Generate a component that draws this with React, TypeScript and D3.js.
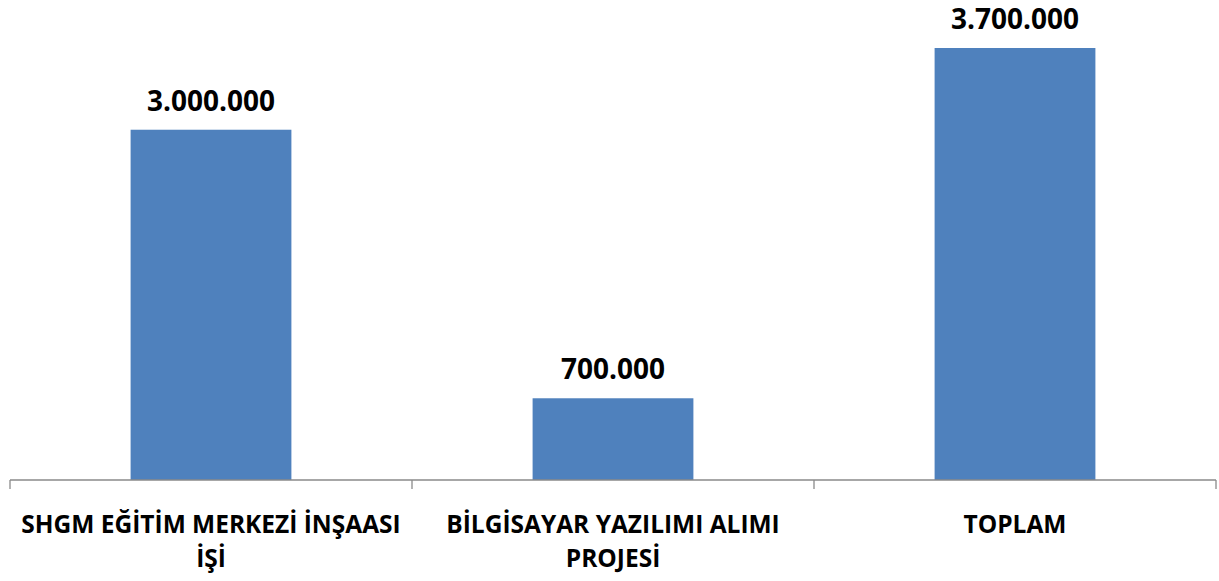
import React, { useEffect, useRef } from "react";
import * as d3 from "d3";

const categories: string[][] = [
    ["SHGM EĞİTİM MERKEZİ İNŞAASI", "İŞİ"],
    ["BİLGİSAYAR YAZILIMI ALIMI", "PROJESİ"],
    ["TOPLAM"],
];
const values: number[] = [3000000, 700000, 3700000];

const fmt = (v: number) => d3.format(",")(v).replace(/,/g, ".");

export default function App() {
    const svgRef = useRef<SVGSVGElement>(null);

    useEffect(() => {
        if (!svgRef.current) return;
        d3.select(svgRef.current).selectAll("*").remove();

        const width = 1219;
        const margin = { left: 10, right: 3, top: 48, base: 480 };
        const font = "'Open Sans', Lato, sans-serif";

        const svg = d3.select(svgRef.current);

        const x = d3.scaleBand<number>()
            .domain(values.map((_, i) => i))
            .range([margin.left, width - margin.right])
            .paddingInner(0)
            .paddingOuter(0);

        const y = d3.scaleLinear()
            .domain([0, 3700000])
            .range([margin.base, margin.top]);

        const barW = x.bandwidth() * 0.4;

        // bars
        svg.selectAll(".bar")
            .data(values)
            .enter()
            .append("rect")
            .attr("x", (_, i) => (x(i) || 0) + (x.bandwidth() - barW) / 2)
            .attr("width", barW)
            .attr("y", d => y(d))
            .attr("height", d => margin.base - y(d))
            .attr("fill", "#4F81BD");

        // value labels
        svg.selectAll(".val")
            .data(values)
            .enter()
            .append("text")
            .attr("x", (_, i) => (x(i) || 0) + x.bandwidth() / 2)
            .attr("y", d => y(d) - 19)
            .attr("text-anchor", "middle")
            .style("font-family", font)
            .style("font-weight", "bold")
            .style("font-size", "28px")
            .style("fill", "#000")
            .text(d => fmt(d));

        // axis line and ticks
        const axis = svg.append("g").attr("stroke", "#8a8a8a").attr("stroke-width", 1.3);
        axis.append("line")
            .attr("x1", margin.left).attr("x2", width - margin.right)
            .attr("y1", margin.base).attr("y2", margin.base);
        const ticks = [...values.map((_, i) => x(i) || 0), width - margin.right];
        axis.selectAll(".tick")
            .data(ticks)
            .enter()
            .append("line")
            .attr("x1", d => d).attr("x2", d => d)
            .attr("y1", margin.base).attr("y2", margin.base + 9);

        // category labels
        categories.forEach((lines, i) => {
            const t = svg.append("text")
                .attr("text-anchor", "middle")
                .style("font-family", font)
                .style("font-weight", "bold")
                .style("font-size", "24.5px")
                .style("fill", "#000");
            lines.forEach((line, j) => {
                t.append("tspan")
                    .attr("x", (x(i) || 0) + x.bandwidth() / 2)
                    .attr("y", 533 + j * 34)
                    .text(line);
            });
        });
    }, []);

    return (
        <svg ref={svgRef} width={1219} height={581}
            style={{ position: "absolute", left: 0, top: 0, background: "#fff" }} />
    );
}
